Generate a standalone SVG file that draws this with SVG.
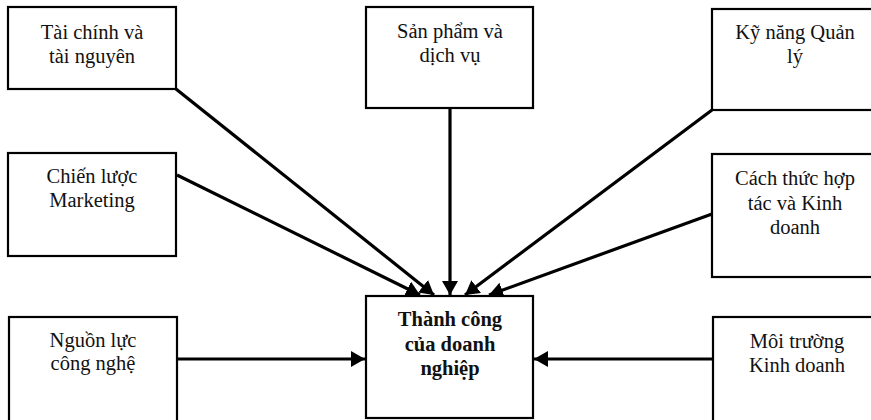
<svg xmlns="http://www.w3.org/2000/svg" width="871" height="420" viewBox="0 0 871 420">
<style>
.box{fill:#fff;stroke:#000;stroke-width:2.2}
.t{font-family:"Liberation Serif","Times New Roman",serif;font-size:20.5px;text-anchor:middle;fill:#111}
.b{font-weight:bold}
.c{stroke:#000;stroke-width:3.2;fill:none;marker-end:url(#ah)}
</style>
<defs>
<marker id="ah" markerUnits="userSpaceOnUse" markerWidth="16" markerHeight="18" refX="14" refY="8" orient="auto">
<path d="M0,0 L14,8 L0,16 Z" fill="#000"/>
</marker>
</defs>
<g id="connectors">
<line class="c" x1="176" y1="89" x2="434" y2="295"/>
<line class="c" x1="177" y1="175" x2="420" y2="295"/>
<line class="c" x1="450" y1="108" x2="450" y2="295"/>
<line class="c" x1="712" y1="110" x2="465" y2="295"/>
<line class="c" x1="712" y1="214" x2="489" y2="295"/>
<line class="c" x1="177" y1="359" x2="365" y2="359"/>
<line class="c" x1="713" y1="359" x2="534" y2="359"/>
</g>
<g id="taichinh">
<rect class="box" x="8" y="7" width="168" height="82"/>
<text class="t" x="92" y="39">Tài chính và</text>
<text class="t" x="92" y="63">tài nguyên</text>
</g>
<g id="sanpham">
<rect class="box" x="366" y="7" width="167" height="101"/>
<text class="t" x="450" y="38">Sản phẩm và</text>
<text class="t" x="450" y="62">dịch vụ</text>
</g>
<g id="kynang">
<rect class="box" x="712" y="9" width="170" height="101"/>
<text class="t" x="795" y="39">Kỹ năng Quản</text>
<text class="t" x="795" y="63">lý</text>
</g>
<g id="marketing">
<rect class="box" x="8" y="153" width="168" height="103"/>
<text class="t" x="92" y="183">Chiến lược</text>
<text class="t" x="92" y="207">Marketing</text>
</g>
<g id="hoptac">
<rect class="box" x="712" y="154" width="170" height="123"/>
<text class="t" x="795" y="185">Cách thức hợp</text>
<text class="t" x="795" y="210">tác và Kinh</text>
<text class="t" x="795" y="234">doanh</text>
</g>
<g id="congnghe">
<rect class="box" x="9" y="317" width="168" height="110"/>
<text class="t" x="93" y="347">Nguồn lực</text>
<text class="t" x="93" y="370">công nghệ</text>
</g>
<g id="thanhcong">
<rect class="box" x="366" y="296" width="167" height="122"/>
<text class="t b" x="450" y="326">Thành công</text>
<text class="t b" x="450" y="351">của doanh</text>
<text class="t b" x="450" y="375">nghiệp</text>
</g>
<g id="moitruong">
<rect class="box" x="713" y="317" width="170" height="110"/>
<text class="t" x="797" y="348">Môi trường</text>
<text class="t" x="797" y="372">Kinh doanh</text>
</g>
</svg>
